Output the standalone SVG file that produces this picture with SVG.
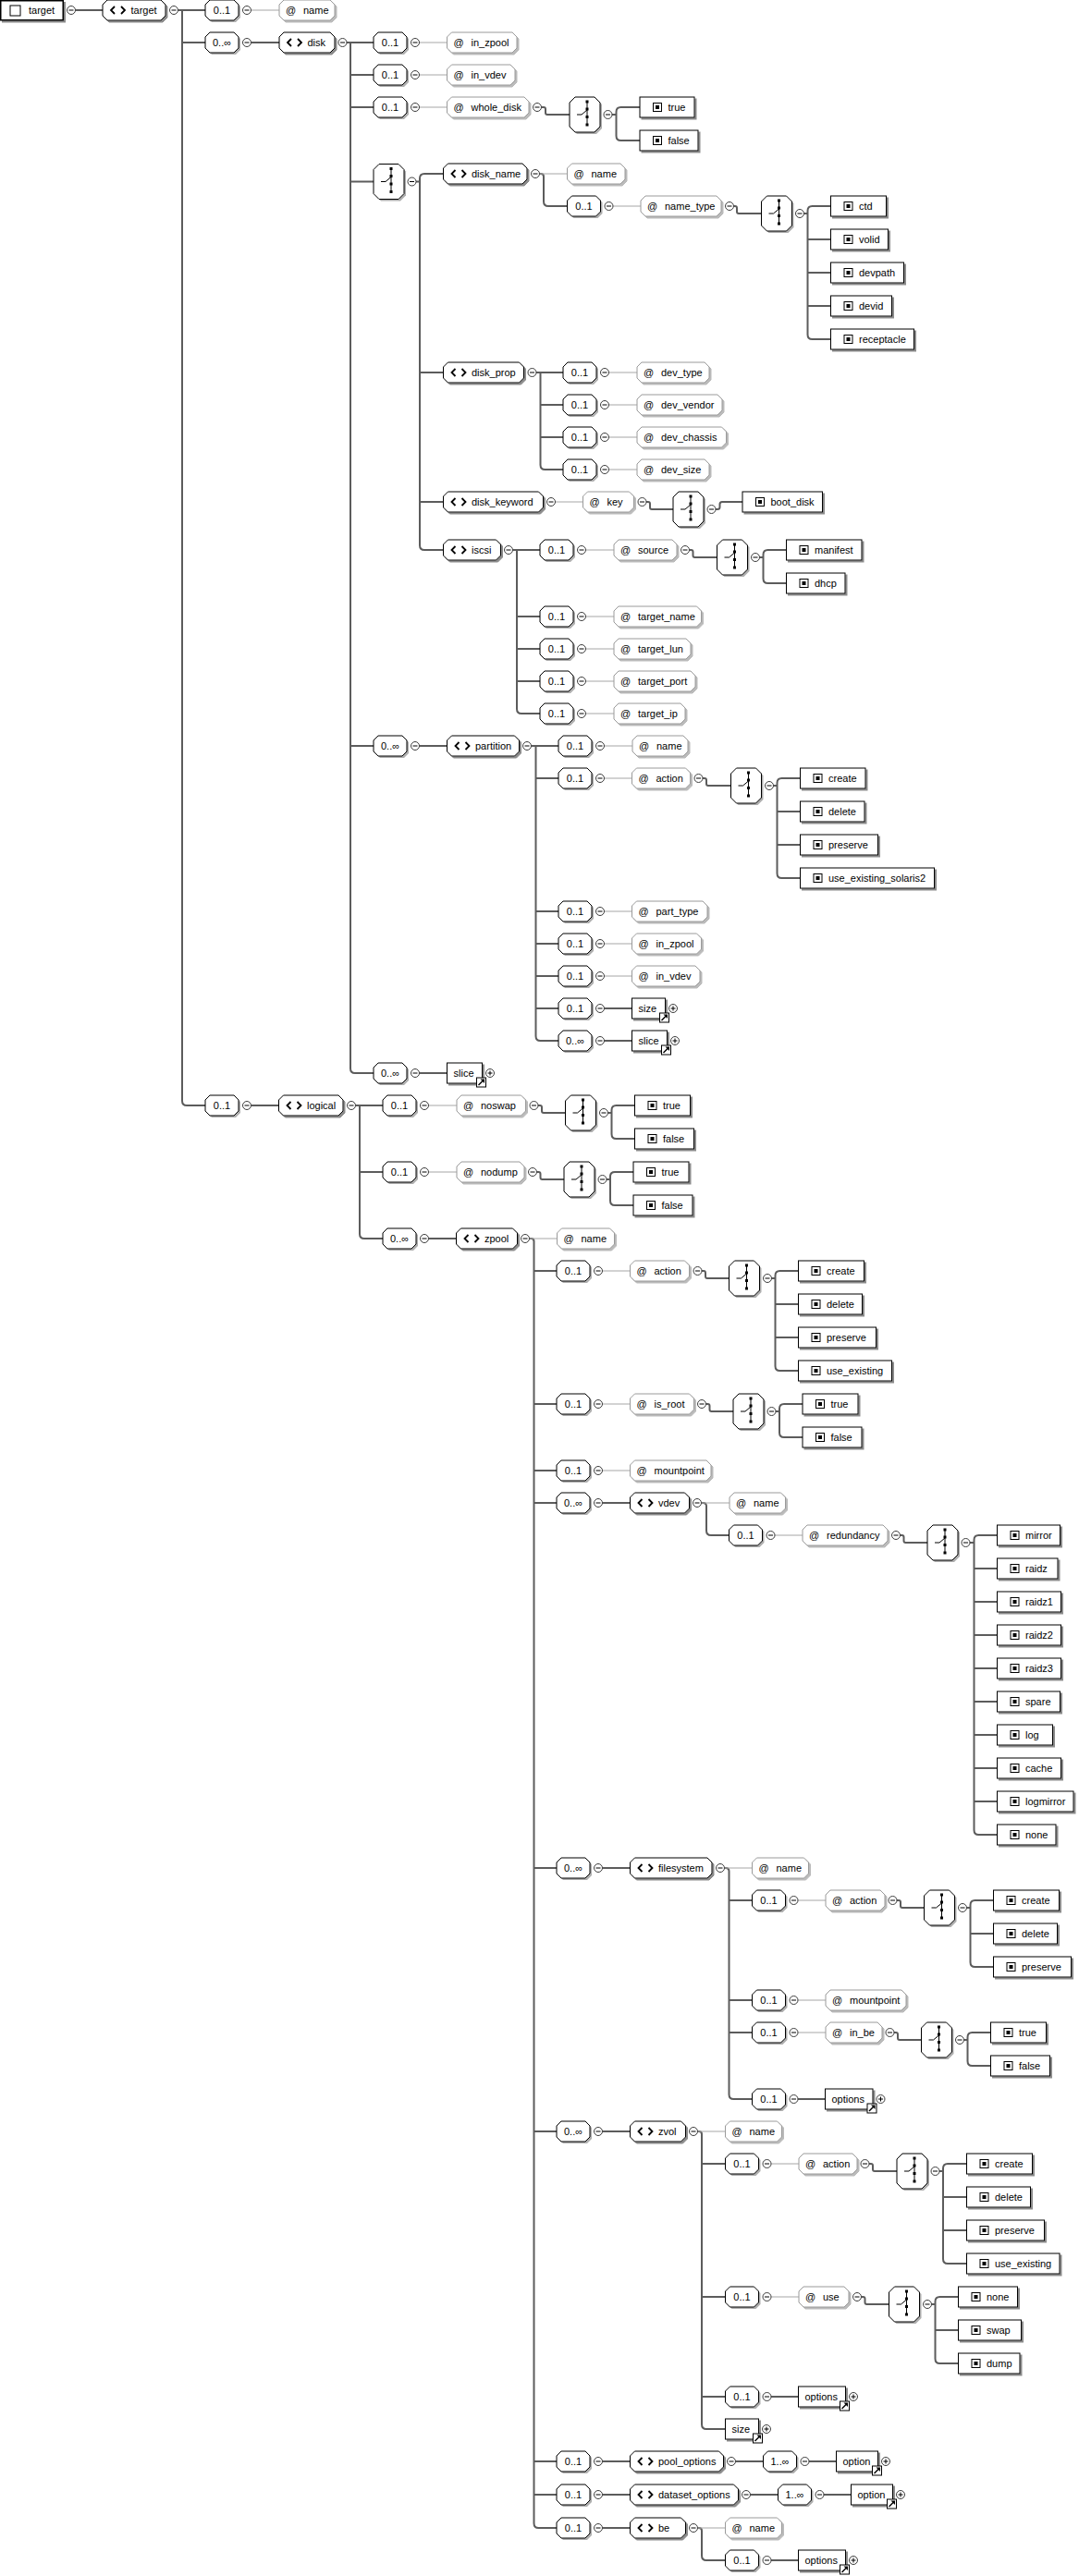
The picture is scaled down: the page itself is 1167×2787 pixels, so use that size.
<svg xmlns="http://www.w3.org/2000/svg" xmlns:xlink="http://www.w3.org/1999/xlink" width="1167" height="2787" viewBox="0 0 1167 2787">
<style>
.t{font-family:"Liberation Sans",Arial,sans-serif;font-size:11px;fill:#000}
.m{text-anchor:middle}
.e{fill:#fff;stroke:#000;stroke-width:1;filter:url(#s)}
.a{fill:#fff;stroke:#9a9a9a;stroke-width:1;filter:url(#sa)}
.c{fill:none;stroke:#5c5c5c;stroke-width:2}
.ct{fill:none;stroke:#a6a6a6;stroke-width:1}
</style>
<defs>
<filter id="s" x="-10%" y="-20%" width="130%" height="160%"><feDropShadow dx="2" dy="2" stdDeviation="0.5" flood-color="#666" flood-opacity="0.75"/></filter>
<filter id="sa" x="-10%" y="-20%" width="130%" height="160%"><feDropShadow dx="2" dy="2" stdDeviation="0.5" flood-color="#aaa" flood-opacity="0.8"/></filter>
<g id="mi"><circle r="4.5" fill="#fff" stroke="#3c3c3c"/><path d="M-2.5 0H2.5" stroke="#000"/></g>
<g id="pl"><circle r="4.5" fill="#fff" stroke="#3c3c3c"/><path d="M-2.5 0H2.5M0 -2.5V2.5" stroke="#000"/></g>
<g id="mb"><path d="M2 -4l5-5h26l5 5v12l-5 5h-26l-5-5z" fill="#8c8c8c" fill-opacity="0.7"/><path d="M0 -6l5-5h26l5 5v12l-5 5h-26l-5-5z" fill="#fff" stroke="#000"/></g>
<path id="cv" d="M13 -4L9 0L13 4M20 -4L24 0L20 4" fill="none" stroke="#000" stroke-width="1.8"/>
<g id="ei"><rect x="14.5" y="-4.5" width="9" height="9" fill="#fff" stroke="#000"/><rect x="17" y="-2" width="4" height="4" fill="#000"/></g>
<g id="ar"><rect x="-6" y="5" width="10" height="10" fill="#fff" stroke="#000"/><path d="M-4 13L1 8" stroke="#000" stroke-width="1.5"/><path d="M-2 6.5H2.5V11Z" fill="#000"/></g>
<g id="ch"><path d="M2 8l6-6h21l6 6v26l-6 6h-21l-6-6z" fill="#8c8c8c" fill-opacity="0.7"/><path d="M0 6l6-6h21l6 6v26l-6 6h-21l-6-6z" fill="#fff" stroke="#000"/><path d="M19 5V30M8 19H13L19 14" fill="none" stroke="#000"/><rect x="17.5" y="3.5" width="3" height="3"/><rect x="17.5" y="11.5" width="3" height="3"/><rect x="17.5" y="20" width="3" height="3"/><rect x="17.5" y="28.5" width="3" height="3"/></g>
</defs>

<g id="connectors">
<g class="c">
<path d="M81.5 11H111M192.5 11H222M197 11V1191Q197 1196 202 1196H222M197 46H222M271.5 46H302M375 46H404"/>
<path d="M379 46V1156Q379 1161 384 1161H404M379 81H404M379 116H404M379 196.5H404M379 807H404"/>
<path d="M585.5 116H588Q590 116 590 118V122Q590 124 592 124H616M662 124H666.5M692 116H671.5Q666.5 116 666.5 121V147Q666.5 152 671.5 152H692"/>
<path d="M450 196.5H454M479.5 188H459Q454 188 454 193V590Q454 595 459 595H479.5M454 403H479.5M454 543H479.5"/>
<path d="M583.5 188H585Q588 188 588 191V218Q588 223 593 223H613.5"/>
<path d="M793.5 223H795Q797 223 797 225V229Q797 231 799 231H823.5M869.5 231H873.5M898.5 223H878.5Q873.5 223 873.5 228V362Q873.5 367 878.5 367H898.5M873.5 259H898.5M873.5 295H898.5M873.5 331H898.5"/>
<path d="M580 403H609M584.5 403V503Q584.5 508 589.5 508H609M584.5 438H609M584.5 473H609"/>
<path d="M699 543H701Q703 543 703 545V549Q703 551 705 551H728M774 551H776Q778.5 551 778.5 548.5V545.5Q778.5 543 781 543H803"/>
<path d="M554.5 595H584M559 595V767Q559 772 564 772H584M559 667H584M559 702H584M559 737H584"/>
<path d="M745.5 595H747.5Q749.5 595 749.5 597V601Q749.5 603 751.5 603H775.5M821.5 603H825.5M850.5 595H830.5Q825.5 595 825.5 600V626Q825.5 631 830.5 631H850.5"/>
<path d="M453.5 807H483.5M574.5 807H604M579.5 807V1121Q579.5 1126 584.5 1126H604M579.5 842H604M579.5 986H604M579.5 1021H604M579.5 1056H604M579.5 1091H604"/>
<path d="M760 842H762Q764 842 764 844V848Q764 850 766 850H790.5M836.5 850H840.5M865.5 842H845.5Q840.5 842 840.5 847V945Q840.5 950 845.5 950H865.5M840.5 878H865.5M840.5 914H865.5"/>
<path d="M653.5 1091H683.5M653.5 1126H683.5M453.5 1161H483.5"/>
<path d="M271.5 1196H301.5M384.5 1196H414M389 1196V1335Q389 1340 394 1340H414M389 1268H414"/>
<path d="M582 1196H584Q586 1196 586 1198V1202Q586 1204 588 1204H611.5M657.5 1204H661.5M686.5 1196H666.5Q661.5 1196 661.5 1201V1227Q661.5 1232 666.5 1232H686.5"/>
<path d="M580.5 1268H582.5Q584.5 1268 584.5 1270V1274Q584.5 1276 586.5 1276H610M656 1276H660M685 1268H665Q660 1268 660 1273V1299Q660 1304 665 1304H685"/>
<path d="M463.5 1340H493.5M572.5 1340H574.5Q577.5 1340 577.5 1343V2730Q577.5 2735 582.5 2735H602M577.5 1375H602M577.5 1519H602M577.5 1591H602M577.5 1626H602M577.5 2021H602M577.5 2306H602M577.5 2663H602M577.5 2699H602"/>
<path d="M759 1375H761Q763 1375 763 1377V1381Q763 1383 765 1383H788.5M834.5 1383H838.5M863.5 1375H843.5Q838.5 1375 838.5 1380V1478Q838.5 1483 843.5 1483H863.5M838.5 1411H863.5M838.5 1447H863.5"/>
<path d="M763.5 1519H765.5Q767.5 1519 767.5 1521V1525Q767.5 1527 769.5 1527H793M839 1527H843M868 1519H848Q843 1519 843 1524V1550Q843 1555 848 1555H868"/>
<path d="M651.5 1626H681.5M758.5 1626H760.5Q764 1626 764 1629.5V1656Q764 1661 769 1661H788.5"/>
<path d="M973.5 1661H975.5Q977.5 1661 977.5 1663V1667Q977.5 1669 979.5 1669H1003M1049 1669H1053.5M1078.5 1661H1058.5Q1053.5 1661 1053.5 1666V1980Q1053.5 1985 1058.5 1985H1078.5M1053.5 1697H1078.5M1053.5 1733H1078.5M1053.5 1769H1078.5M1053.5 1805H1078.5M1053.5 1841H1078.5M1053.5 1877H1078.5M1053.5 1913H1078.5M1053.5 1949H1078.5"/>
<path d="M651.5 2021H681.5M783.5 2021H785Q788.5 2021 788.5 2024.5V2266Q788.5 2271 793.5 2271H813.5M788.5 2056H813.5M788.5 2164H813.5M788.5 2199H813.5"/>
<path d="M970 2056H972Q974 2056 974 2058V2062Q974 2064 976 2064H999.5M1045.5 2064H1049.5M1074.5 2056H1054.5Q1049.5 2056 1049.5 2061V2123Q1049.5 2128 1054.5 2128H1074.5M1049.5 2092H1074.5"/>
<path d="M967 2199H969Q971 2199 971 2201V2205Q971 2207 973 2207H996.5M1042.5 2207H1046.5M1071.5 2199H1051.5Q1046.5 2199 1046.5 2204V2230Q1046.5 2235 1051.5 2235H1071.5M863 2271H892.5"/>
<path d="M651.5 2306H681.5M754.5 2306H756Q759 2306 759 2309V2623Q759 2628 764 2628H784.5M759 2341H784.5M759 2485H784.5M759 2593H784.5"/>
<path d="M940 2341H942Q944 2341 944 2343V2347Q944 2349 946 2349H970M1016 2349H1020M1045.5 2341H1025Q1020 2341 1020 2346V2444Q1020 2449 1025 2449H1045.5M1020 2377H1045.5M1020 2413H1045.5"/>
<path d="M931.5 2485H933.5Q935.5 2485 935.5 2487V2491Q935.5 2493 937.5 2493H961.5M1007.5 2493H1011.5M1036.5 2485H1016.5Q1011.5 2485 1011.5 2490V2552Q1011.5 2557 1016.5 2557H1036.5M1011.5 2521H1036.5M834 2593H863.5"/>
<path d="M651.5 2663H681.5M795.5 2663H825.5M875 2663H904.5M651.5 2699H681.5M811.5 2699H841.5M891 2699H920.5"/>
<path d="M651.5 2735H681.5M754.5 2735H756Q759 2735 759 2738V2765Q759 2770 764 2770H784.5M834 2770H863.5"/>
</g>
<path class="ct" d="M271.5 11H302M453.5 46H483.5M453.5 81H483.5M453.5 116H483.5M583.5 188H613.5M663 223H693M658.5 403H689M658.5 438H689M658.5 473H689M658.5 508H689M600.5 543H630.5M633.5 595H664M633.5 667H664M633.5 702H664M633.5 737H664M633.5 772H664M653.5 807H684M653.5 842H683.5M653.5 986H683.5M653.5 1021H683.5M653.5 1056H683.5M463.5 1196H494M463.5 1268H494M572.5 1340H602.5M651.5 1375H681.5M651.5 1519H681.5M651.5 1591H681.5M758.5 1626H789M838 1661H868M783.5 2021H813.5M863 2056H893M863 2164H893M863 2199H893M754.5 2306H784.5M834 2341H864M834 2485H864M754.5 2735H784.5"/>
</g>

<g id="n-root"><rect x="0.75" y="0.75" width="67.5" height="21" fill="#fff" stroke="#000" stroke-width="1.5" filter="url(#s)"/><rect x="11" y="6" width="11" height="11" fill="none" stroke="#000"/><text class="t" x="31" y="15">target</text><use href="#mi" x="77" y="11"/></g>
<g id="n-target"><path class="e" d="M111 5l5-5h58l5 5v12l-5 5h-58l-5-5z"/><use href="#cv" x="111" y="11"/><text class="t" x="141.5" y="15">target</text><use href="#mi" x="188" y="11"/></g>

<g id="n-name0"><use href="#mb" x="222" y="11"/><text class="t m" x="240" y="15">0..1</text><use href="#mi" x="267" y="11"/><path class="a" d="M302 5l5-5h50l5 5v12l-5 5h-50l-5-5z"/><text class="t" x="309" y="15">@</text><text class="t" x="328" y="15">name</text></g>

<g id="n-disk"><use href="#mb" x="222" y="46"/><text class="t m" x="240" y="50">0..∞</text><use href="#mi" x="267" y="46"/><path class="e" d="M302 40l5-5h50l5 5v12l-5 5h-50l-5-5z"/><use href="#cv" x="302" y="46"/><text class="t" x="332.5" y="50">disk</text><use href="#mi" x="370.5" y="46"/></g>

<g id="n-disk-in_zpool"><use href="#mb" x="404" y="46"/><text class="t m" x="422" y="50">0..1</text><use href="#mi" x="449" y="46"/><path class="a" d="M483.5 40l5-5h65.5l5 5v12l-5 5h-65.5l-5-5z"/><text class="t" x="490.5" y="50">@</text><text class="t" x="509.5" y="50">in_zpool</text></g>
<g id="n-disk-in_vdev"><use href="#mb" x="404" y="81"/><text class="t m" x="422" y="85">0..1</text><use href="#mi" x="449" y="81"/><path class="a" d="M483.5 75l5-5h63.5l5 5v12l-5 5h-63.5l-5-5z"/><text class="t" x="490.5" y="85">@</text><text class="t" x="509.5" y="85">in_vdev</text></g>
<g id="n-disk-whole_disk"><use href="#mb" x="404" y="116"/><text class="t m" x="422" y="120">0..1</text><use href="#mi" x="449" y="116"/><path class="a" d="M483.5 110l5-5h78.5l5 5v12l-5 5h-78.5l-5-5z"/><text class="t" x="490.5" y="120">@</text><text class="t" x="509.5" y="120">whole_disk</text><use href="#mi" x="581" y="116"/><use href="#ch" x="616" y="105"/><use href="#mi" x="657.5" y="124"/>
<rect class="e" x="692" y="105" width="59" height="22"/><use href="#ei" x="692" y="116"/><text class="t" x="722.5" y="120">true</text>
<rect class="e" x="692" y="141" width="63" height="22"/><use href="#ei" x="692" y="152"/><text class="t" x="722.5" y="156">false</text></g>

<g id="n-disk-choice"><use href="#ch" x="404" y="177.5"/><use href="#mi" x="445.5" y="196.5"/></g>

<g id="n-disk_name"><path class="e" d="M479.5 182l5-5h80.5l5 5v12l-5 5h-80.5l-5-5z"/><use href="#cv" x="479.5" y="188"/><text class="t" x="510" y="192">disk_name</text><use href="#mi" x="579" y="188"/><path class="a" d="M613.5 182l5-5h52.5l5 5v12l-5 5h-52.5l-5-5z"/><text class="t" x="620.5" y="192">@</text><text class="t" x="639.5" y="192">name</text></g>
<g id="n-name_type"><use href="#mb" x="613.5" y="223"/><text class="t m" x="631.5" y="227">0..1</text><use href="#mi" x="658.5" y="223"/><path class="a" d="M693 217l5-5h77l5 5v12l-5 5h-77l-5-5z"/><text class="t" x="700" y="227">@</text><text class="t" x="719" y="227">name_type</text><use href="#mi" x="789" y="223"/><use href="#ch" x="823.5" y="212"/><use href="#mi" x="865" y="231"/>
<rect class="e" x="898.5" y="212" width="60" height="22"/><use href="#ei" x="898.5" y="223"/><text class="t" x="929" y="227">ctd</text>
<rect class="e" x="898.5" y="248" width="62" height="22"/><use href="#ei" x="898.5" y="259"/><text class="t" x="929" y="263">volid</text>
<rect class="e" x="898.5" y="284" width="79" height="22"/><use href="#ei" x="898.5" y="295"/><text class="t" x="929" y="299">devpath</text>
<rect class="e" x="898.5" y="320" width="66" height="22"/><use href="#ei" x="898.5" y="331"/><text class="t" x="929" y="335">devid</text>
<rect class="e" x="898.5" y="356" width="90" height="22"/><use href="#ei" x="898.5" y="367"/><text class="t" x="929" y="371">receptacle</text></g>

<g id="n-disk_prop"><path class="e" d="M479.5 397l5-5h77l5 5v12l-5 5h-77l-5-5z"/><use href="#cv" x="479.5" y="403"/><text class="t" x="510" y="407">disk_prop</text><use href="#mi" x="575.5" y="403"/></g>
<g id="n-dev_type"><use href="#mb" x="609" y="403"/><text class="t m" x="627" y="407">0..1</text><use href="#mi" x="654" y="403"/><path class="a" d="M689 397l5-5h68l5 5v12l-5 5h-68l-5-5z"/><text class="t" x="696" y="407">@</text><text class="t" x="715" y="407">dev_type</text></g>
<g id="n-dev_vendor"><use href="#mb" x="609" y="438"/><text class="t m" x="627" y="442">0..1</text><use href="#mi" x="654" y="438"/><path class="a" d="M689 432l5-5h82l5 5v12l-5 5h-82l-5-5z"/><text class="t" x="696" y="442">@</text><text class="t" x="715" y="442">dev_vendor</text></g>
<g id="n-dev_chassis"><use href="#mb" x="609" y="473"/><text class="t m" x="627" y="477">0..1</text><use href="#mi" x="654" y="473"/><path class="a" d="M689 467l5-5h86.5l5 5v12l-5 5h-86.5l-5-5z"/><text class="t" x="696" y="477">@</text><text class="t" x="715" y="477">dev_chassis</text></g>
<g id="n-dev_size"><use href="#mb" x="609" y="508"/><text class="t m" x="627" y="512">0..1</text><use href="#mi" x="654" y="508"/><path class="a" d="M689 502l5-5h68l5 5v12l-5 5h-68l-5-5z"/><text class="t" x="696" y="512">@</text><text class="t" x="715" y="512">dev_size</text></g>

<g id="n-disk_keyword"><path class="e" d="M479.5 537l5-5h98l5 5v12l-5 5h-98l-5-5z"/><use href="#cv" x="479.5" y="543"/><text class="t" x="510" y="547">disk_keyword</text><use href="#mi" x="596" y="543"/><path class="a" d="M630.5 537l5-5h45l5 5v12l-5 5h-45l-5-5z"/><text class="t" x="637.5" y="547">@</text><text class="t" x="656.5" y="547">key</text><use href="#mi" x="694.5" y="543"/><use href="#ch" x="728" y="532"/><use href="#mi" x="769.5" y="551"/>
<rect class="e" x="803" y="532" width="86.5" height="22"/><use href="#ei" x="803" y="543"/><text class="t" x="833.5" y="547">boot_disk</text></g>

<g id="n-iscsi"><path class="e" d="M479.5 589l5-5h52l5 5v12l-5 5h-52l-5-5z"/><use href="#cv" x="479.5" y="595"/><text class="t" x="510" y="599">iscsi</text><use href="#mi" x="550" y="595"/></g>
<g id="n-source"><use href="#mb" x="584" y="595"/><text class="t m" x="602" y="599">0..1</text><use href="#mi" x="629" y="595"/><path class="a" d="M664 589l5-5h58l5 5v12l-5 5h-58l-5-5z"/><text class="t" x="671" y="599">@</text><text class="t" x="690" y="599">source</text><use href="#mi" x="741" y="595"/><use href="#ch" x="775.5" y="584"/><use href="#mi" x="817" y="603"/>
<rect class="e" x="850.5" y="584" width="81.5" height="22"/><use href="#ei" x="850.5" y="595"/><text class="t" x="881" y="599">manifest</text>
<rect class="e" x="850.5" y="620" width="63.5" height="22"/><use href="#ei" x="850.5" y="631"/><text class="t" x="881" y="635">dhcp</text></g>
<g id="n-target_name"><use href="#mb" x="584" y="667"/><text class="t m" x="602" y="671">0..1</text><use href="#mi" x="629" y="667"/><path class="a" d="M664 661l5-5h84.5l5 5v12l-5 5h-84.5l-5-5z"/><text class="t" x="671" y="671">@</text><text class="t" x="690" y="671">target_name</text></g>
<g id="n-target_lun"><use href="#mb" x="584" y="702"/><text class="t m" x="602" y="706">0..1</text><use href="#mi" x="629" y="702"/><path class="a" d="M664 696l5-5h73l5 5v12l-5 5h-73l-5-5z"/><text class="t" x="671" y="706">@</text><text class="t" x="690" y="706">target_lun</text></g>
<g id="n-target_port"><use href="#mb" x="584" y="737"/><text class="t m" x="602" y="741">0..1</text><use href="#mi" x="629" y="737"/><path class="a" d="M664 731l5-5h78l5 5v12l-5 5h-78l-5-5z"/><text class="t" x="671" y="741">@</text><text class="t" x="690" y="741">target_port</text></g>
<g id="n-target_ip"><use href="#mb" x="584" y="772"/><text class="t m" x="602" y="776">0..1</text><use href="#mi" x="629" y="772"/><path class="a" d="M664 766l5-5h67l5 5v12l-5 5h-67l-5-5z"/><text class="t" x="671" y="776">@</text><text class="t" x="690" y="776">target_ip</text></g>

<g id="n-partition"><use href="#mb" x="404" y="807"/><text class="t m" x="422" y="811">0..∞</text><use href="#mi" x="449" y="807"/><path class="e" d="M483.5 801l5-5h68l5 5v12l-5 5h-68l-5-5z"/><use href="#cv" x="483.5" y="807"/><text class="t" x="514" y="811">partition</text><use href="#mi" x="570" y="807"/></g>
<g id="n-partition-name"><use href="#mb" x="604" y="807"/><text class="t m" x="622" y="811">0..1</text><use href="#mi" x="649" y="807"/><path class="a" d="M684 801l5-5h50l5 5v12l-5 5h-50l-5-5z"/><text class="t" x="691" y="811">@</text><text class="t" x="710" y="811">name</text></g>
<g id="n-partition-action"><use href="#mb" x="604" y="842"/><text class="t m" x="622" y="846">0..1</text><use href="#mi" x="649" y="842"/><path class="a" d="M683.5 836l5-5h53l5 5v12l-5 5h-53l-5-5z"/><text class="t" x="690.5" y="846">@</text><text class="t" x="709.5" y="846">action</text><use href="#mi" x="755.5" y="842"/><use href="#ch" x="790.5" y="831"/><use href="#mi" x="832" y="850"/>
<rect class="e" x="865.5" y="831" width="70.5" height="22"/><use href="#ei" x="865.5" y="842"/><text class="t" x="896" y="846">create</text>
<rect class="e" x="865.5" y="867" width="69.5" height="22"/><use href="#ei" x="865.5" y="878"/><text class="t" x="896" y="882">delete</text>
<rect class="e" x="865.5" y="903" width="84" height="22"/><use href="#ei" x="865.5" y="914"/><text class="t" x="896" y="918">preserve</text>
<rect class="e" x="865.5" y="939" width="145" height="22"/><use href="#ei" x="865.5" y="950"/><text class="t" x="896" y="954">use_existing_solaris2</text></g>
<g id="n-part_type"><use href="#mb" x="604" y="986"/><text class="t m" x="622" y="990">0..1</text><use href="#mi" x="649" y="986"/><path class="a" d="M683.5 980l5-5h71.5l5 5v12l-5 5h-71.5l-5-5z"/><text class="t" x="690.5" y="990">@</text><text class="t" x="709.5" y="990">part_type</text></g>
<g id="n-partition-in_zpool"><use href="#mb" x="604" y="1021"/><text class="t m" x="622" y="1025">0..1</text><use href="#mi" x="649" y="1021"/><path class="a" d="M683.5 1015l5-5h65l5 5v12l-5 5h-65l-5-5z"/><text class="t" x="690.5" y="1025">@</text><text class="t" x="709.5" y="1025">in_zpool</text></g>
<g id="n-partition-in_vdev"><use href="#mb" x="604" y="1056"/><text class="t m" x="622" y="1060">0..1</text><use href="#mi" x="649" y="1056"/><path class="a" d="M683.5 1050l5-5h63.5l5 5v12l-5 5h-63.5l-5-5z"/><text class="t" x="690.5" y="1060">@</text><text class="t" x="709.5" y="1060">in_vdev</text></g>
<g id="n-partition-size"><use href="#mb" x="604" y="1091"/><text class="t m" x="622" y="1095">0..1</text><use href="#mi" x="649" y="1091"/><rect class="e" x="683.5" y="1080" width="36" height="22"/><text class="t" x="690.5" y="1095">size</text><use href="#ar" x="719.5" y="1091"/><use href="#pl" x="728" y="1091"/></g>
<g id="n-partition-slice"><use href="#mb" x="604" y="1126"/><text class="t m" x="622" y="1130">0..∞</text><use href="#mi" x="649" y="1126"/><rect class="e" x="683.5" y="1115" width="38" height="22"/><text class="t" x="690.5" y="1130">slice</text><use href="#ar" x="721.5" y="1126"/><use href="#pl" x="730" y="1126"/></g>
<g id="n-disk-slice"><use href="#mb" x="404" y="1161"/><text class="t m" x="422" y="1165">0..∞</text><use href="#mi" x="449" y="1161"/><rect class="e" x="483.5" y="1150" width="38" height="22"/><text class="t" x="490.5" y="1165">slice</text><use href="#ar" x="521.5" y="1161"/><use href="#pl" x="530" y="1161"/></g>

<g id="n-logical"><use href="#mb" x="222" y="1196"/><text class="t m" x="240" y="1200">0..1</text><use href="#mi" x="267" y="1196"/><path class="e" d="M301.5 1190l5-5h59.5l5 5v12l-5 5h-59.5l-5-5z"/><use href="#cv" x="301.5" y="1196"/><text class="t" x="332" y="1200">logical</text><use href="#mi" x="380" y="1196"/></g>
<g id="n-noswap"><use href="#mb" x="414" y="1196"/><text class="t m" x="432" y="1200">0..1</text><use href="#mi" x="459" y="1196"/><path class="a" d="M494 1190l5-5h64.5l5 5v12l-5 5h-64.5l-5-5z"/><text class="t" x="501" y="1200">@</text><text class="t" x="520" y="1200">noswap</text><use href="#mi" x="577.5" y="1196"/><use href="#ch" x="611.5" y="1185"/><use href="#mi" x="653" y="1204"/>
<rect class="e" x="686.5" y="1185" width="60" height="22"/><use href="#ei" x="686.5" y="1196"/><text class="t" x="717" y="1200">true</text>
<rect class="e" x="686.5" y="1221" width="64" height="22"/><use href="#ei" x="686.5" y="1232"/><text class="t" x="717" y="1236">false</text></g>
<g id="n-nodump"><use href="#mb" x="414" y="1268"/><text class="t m" x="432" y="1272">0..1</text><use href="#mi" x="459" y="1268"/><path class="a" d="M494 1262l5-5h63l5 5v12l-5 5h-63l-5-5z"/><text class="t" x="501" y="1272">@</text><text class="t" x="520" y="1272">nodump</text><use href="#mi" x="576" y="1268"/><use href="#ch" x="610" y="1257"/><use href="#mi" x="651.5" y="1276"/>
<rect class="e" x="685" y="1257" width="60" height="22"/><use href="#ei" x="685" y="1268"/><text class="t" x="715.5" y="1272">true</text>
<rect class="e" x="685" y="1293" width="64" height="22"/><use href="#ei" x="685" y="1304"/><text class="t" x="715.5" y="1308">false</text></g>

<g id="n-zpool"><use href="#mb" x="414" y="1340"/><text class="t m" x="432" y="1344">0..∞</text><use href="#mi" x="459" y="1340"/><path class="e" d="M493.5 1334l5-5h56l5 5v12l-5 5h-56l-5-5z"/><use href="#cv" x="493.5" y="1340"/><text class="t" x="524" y="1344">zpool</text><use href="#mi" x="568" y="1340"/><path class="a" d="M602.5 1334l5-5h52l5 5v12l-5 5h-52l-5-5z"/><text class="t" x="609.5" y="1344">@</text><text class="t" x="628.5" y="1344">name</text></g>
<g id="n-zpool-action"><use href="#mb" x="602" y="1375"/><text class="t m" x="620" y="1379">0..1</text><use href="#mi" x="647" y="1375"/><path class="a" d="M681.5 1369l5-5h54l5 5v12l-5 5h-54l-5-5z"/><text class="t" x="688.5" y="1379">@</text><text class="t" x="707.5" y="1379">action</text><use href="#mi" x="754.5" y="1375"/><use href="#ch" x="788.5" y="1364"/><use href="#mi" x="830" y="1383"/>
<rect class="e" x="863.5" y="1364" width="71" height="22"/><use href="#ei" x="863.5" y="1375"/><text class="t" x="894" y="1379">create</text>
<rect class="e" x="863.5" y="1400" width="69" height="22"/><use href="#ei" x="863.5" y="1411"/><text class="t" x="894" y="1415">delete</text>
<rect class="e" x="863.5" y="1436" width="84" height="22"/><use href="#ei" x="863.5" y="1447"/><text class="t" x="894" y="1451">preserve</text>
<rect class="e" x="863.5" y="1472" width="101" height="22"/><use href="#ei" x="863.5" y="1483"/><text class="t" x="894" y="1487">use_existing</text></g>
<g id="n-is_root"><use href="#mb" x="602" y="1519"/><text class="t m" x="620" y="1523">0..1</text><use href="#mi" x="647" y="1519"/><path class="a" d="M681.5 1513l5-5h59l5 5v12l-5 5h-59l-5-5z"/><text class="t" x="688.5" y="1523">@</text><text class="t" x="707.5" y="1523">is_root</text><use href="#mi" x="759" y="1519"/><use href="#ch" x="793" y="1508"/><use href="#mi" x="834.5" y="1527"/>
<rect class="e" x="868" y="1508" width="60" height="22"/><use href="#ei" x="868" y="1519"/><text class="t" x="898.5" y="1523">true</text>
<rect class="e" x="868" y="1544" width="64" height="22"/><use href="#ei" x="868" y="1555"/><text class="t" x="898.5" y="1559">false</text></g>
<g id="n-zpool-mountpoint"><use href="#mb" x="602" y="1591"/><text class="t m" x="620" y="1595">0..1</text><use href="#mi" x="647" y="1591"/><path class="a" d="M681.5 1585l5-5h77.5l5 5v12l-5 5h-77.5l-5-5z"/><text class="t" x="688.5" y="1595">@</text><text class="t" x="707.5" y="1595">mountpoint</text></g>
<g id="n-vdev"><use href="#mb" x="602" y="1626"/><text class="t m" x="620" y="1630">0..∞</text><use href="#mi" x="647" y="1626"/><path class="e" d="M681.5 1620l5-5h54l5 5v12l-5 5h-54l-5-5z"/><use href="#cv" x="681.5" y="1626"/><text class="t" x="712" y="1630">vdev</text><use href="#mi" x="754" y="1626"/><path class="a" d="M789 1620l5-5h50.5l5 5v12l-5 5h-50.5l-5-5z"/><text class="t" x="796" y="1630">@</text><text class="t" x="815" y="1630">name</text></g>
<g id="n-redundancy"><use href="#mb" x="788.5" y="1661"/><text class="t m" x="806.5" y="1665">0..1</text><use href="#mi" x="833.5" y="1661"/><path class="a" d="M868 1655l5-5h82l5 5v12l-5 5h-82l-5-5z"/><text class="t" x="875" y="1665">@</text><text class="t" x="894" y="1665">redundancy</text><use href="#mi" x="969" y="1661"/><use href="#ch" x="1003" y="1650"/><use href="#mi" x="1044.5" y="1669"/>
<rect class="e" x="1078.5" y="1650" width="68" height="22"/><use href="#ei" x="1078.5" y="1661"/><text class="t" x="1109" y="1665">mirror</text>
<rect class="e" x="1078.5" y="1686" width="65.5" height="22"/><use href="#ei" x="1078.5" y="1697"/><text class="t" x="1109" y="1701">raidz</text>
<rect class="e" x="1078.5" y="1722" width="69" height="22"/><use href="#ei" x="1078.5" y="1733"/><text class="t" x="1109" y="1737">raidz1</text>
<rect class="e" x="1078.5" y="1758" width="69" height="22"/><use href="#ei" x="1078.5" y="1769"/><text class="t" x="1109" y="1773">raidz2</text>
<rect class="e" x="1078.5" y="1794" width="69" height="22"/><use href="#ei" x="1078.5" y="1805"/><text class="t" x="1109" y="1809">raidz3</text>
<rect class="e" x="1078.5" y="1830" width="68" height="22"/><use href="#ei" x="1078.5" y="1841"/><text class="t" x="1109" y="1845">spare</text>
<rect class="e" x="1078.5" y="1866" width="60" height="22"/><use href="#ei" x="1078.5" y="1877"/><text class="t" x="1109" y="1881">log</text>
<rect class="e" x="1078.5" y="1902" width="69" height="22"/><use href="#ei" x="1078.5" y="1913"/><text class="t" x="1109" y="1917">cache</text>
<rect class="e" x="1078.5" y="1938" width="82.5" height="22"/><use href="#ei" x="1078.5" y="1949"/><text class="t" x="1109" y="1953">logmirror</text>
<rect class="e" x="1078.5" y="1974" width="63.5" height="22"/><use href="#ei" x="1078.5" y="1985"/><text class="t" x="1109" y="1989">none</text></g>

<g id="n-filesystem"><use href="#mb" x="602" y="2021"/><text class="t m" x="620" y="2025">0..∞</text><use href="#mi" x="647" y="2021"/><path class="e" d="M681.5 2015l5-5h78.5l5 5v12l-5 5h-78.5l-5-5z"/><use href="#cv" x="681.5" y="2021"/><text class="t" x="712" y="2025">filesystem</text><use href="#mi" x="779" y="2021"/><path class="a" d="M813.5 2015l5-5h51l5 5v12l-5 5h-51l-5-5z"/><text class="t" x="820.5" y="2025">@</text><text class="t" x="839.5" y="2025">name</text></g>
<g id="n-fs-action"><use href="#mb" x="813.5" y="2056"/><text class="t m" x="831.5" y="2060">0..1</text><use href="#mi" x="858.5" y="2056"/><path class="a" d="M893 2050l5-5h54l5 5v12l-5 5h-54l-5-5z"/><text class="t" x="900" y="2060">@</text><text class="t" x="919" y="2060">action</text><use href="#mi" x="965.5" y="2056"/><use href="#ch" x="999.5" y="2045"/><use href="#mi" x="1041" y="2064"/>
<rect class="e" x="1074.5" y="2045" width="71" height="22"/><use href="#ei" x="1074.5" y="2056"/><text class="t" x="1105" y="2060">create</text>
<rect class="e" x="1074.5" y="2081" width="69" height="22"/><use href="#ei" x="1074.5" y="2092"/><text class="t" x="1105" y="2096">delete</text>
<rect class="e" x="1074.5" y="2117" width="84" height="22"/><use href="#ei" x="1074.5" y="2128"/><text class="t" x="1105" y="2132">preserve</text></g>
<g id="n-fs-mountpoint"><use href="#mb" x="813.5" y="2164"/><text class="t m" x="831.5" y="2168">0..1</text><use href="#mi" x="858.5" y="2164"/><path class="a" d="M893 2158l5-5h77l5 5v12l-5 5h-77l-5-5z"/><text class="t" x="900" y="2168">@</text><text class="t" x="919" y="2168">mountpoint</text></g>
<g id="n-in_be"><use href="#mb" x="813.5" y="2199"/><text class="t m" x="831.5" y="2203">0..1</text><use href="#mi" x="858.5" y="2199"/><path class="a" d="M893 2193l5-5h51l5 5v12l-5 5h-51l-5-5z"/><text class="t" x="900" y="2203">@</text><text class="t" x="919" y="2203">in_be</text><use href="#mi" x="962.5" y="2199"/><use href="#ch" x="996.5" y="2188"/><use href="#mi" x="1038" y="2207"/>
<rect class="e" x="1071.5" y="2188" width="60" height="22"/><use href="#ei" x="1071.5" y="2199"/><text class="t" x="1102" y="2203">true</text>
<rect class="e" x="1071.5" y="2224" width="64" height="22"/><use href="#ei" x="1071.5" y="2235"/><text class="t" x="1102" y="2239">false</text></g>
<g id="n-fs-options"><use href="#mb" x="813.5" y="2271"/><text class="t m" x="831.5" y="2275">0..1</text><use href="#mi" x="858.5" y="2271"/><rect class="e" x="892.5" y="2260" width="51.5" height="22"/><text class="t" x="899.5" y="2275">options</text><use href="#ar" x="944" y="2271"/><use href="#pl" x="952.5" y="2271"/></g>

<g id="n-zvol"><use href="#mb" x="602" y="2306"/><text class="t m" x="620" y="2310">0..∞</text><use href="#mi" x="647" y="2306"/><path class="e" d="M681.5 2300l5-5h50l5 5v12l-5 5h-50l-5-5z"/><use href="#cv" x="681.5" y="2306"/><text class="t" x="712" y="2310">zvol</text><use href="#mi" x="750" y="2306"/><path class="a" d="M784.5 2300l5-5h51l5 5v12l-5 5h-51l-5-5z"/><text class="t" x="791.5" y="2310">@</text><text class="t" x="810.5" y="2310">name</text></g>
<g id="n-zvol-action"><use href="#mb" x="784.5" y="2341"/><text class="t m" x="802.5" y="2345">0..1</text><use href="#mi" x="829.5" y="2341"/><path class="a" d="M864 2335l5-5h53l5 5v12l-5 5h-53l-5-5z"/><text class="t" x="871" y="2345">@</text><text class="t" x="890" y="2345">action</text><use href="#mi" x="935.5" y="2341"/><use href="#ch" x="970" y="2330"/><use href="#mi" x="1011.5" y="2349"/>
<rect class="e" x="1045.5" y="2330" width="71" height="22"/><use href="#ei" x="1045.5" y="2341"/><text class="t" x="1076" y="2345">create</text>
<rect class="e" x="1045.5" y="2366" width="69" height="22"/><use href="#ei" x="1045.5" y="2377"/><text class="t" x="1076" y="2381">delete</text>
<rect class="e" x="1045.5" y="2402" width="84" height="22"/><use href="#ei" x="1045.5" y="2413"/><text class="t" x="1076" y="2417">preserve</text>
<rect class="e" x="1045.5" y="2438" width="100.5" height="22"/><use href="#ei" x="1045.5" y="2449"/><text class="t" x="1076" y="2453">use_existing</text></g>
<g id="n-use"><use href="#mb" x="784.5" y="2485"/><text class="t m" x="802.5" y="2489">0..1</text><use href="#mi" x="829.5" y="2485"/><path class="a" d="M864 2479l5-5h44l5 5v12l-5 5h-44l-5-5z"/><text class="t" x="871" y="2489">@</text><text class="t" x="890" y="2489">use</text><use href="#mi" x="927" y="2485"/><use href="#ch" x="961.5" y="2474"/><use href="#mi" x="1003" y="2493"/>
<rect class="e" x="1036.5" y="2474" width="64" height="22"/><use href="#ei" x="1036.5" y="2485"/><text class="t" x="1067" y="2489">none</text>
<rect class="e" x="1036.5" y="2510" width="68" height="22"/><use href="#ei" x="1036.5" y="2521"/><text class="t" x="1067" y="2525">swap</text>
<rect class="e" x="1036.5" y="2546" width="66.5" height="22"/><use href="#ei" x="1036.5" y="2557"/><text class="t" x="1067" y="2561">dump</text></g>
<g id="n-zvol-options"><use href="#mb" x="784.5" y="2593"/><text class="t m" x="802.5" y="2597">0..1</text><use href="#mi" x="829.5" y="2593"/><rect class="e" x="863.5" y="2582" width="51" height="22"/><text class="t" x="870.5" y="2597">options</text><use href="#ar" x="914.5" y="2593"/><use href="#pl" x="923" y="2593"/></g>
<g id="n-zvol-size"><rect class="e" x="784.5" y="2617" width="36" height="22"/><text class="t" x="791.5" y="2632">size</text><use href="#ar" x="820.5" y="2628"/><use href="#pl" x="829" y="2628"/></g>

<g id="n-pool_options"><use href="#mb" x="602" y="2663"/><text class="t m" x="620" y="2667">0..1</text><use href="#mi" x="647" y="2663"/><path class="e" d="M681.5 2657l5-5h91l5 5v12l-5 5h-91l-5-5z"/><use href="#cv" x="681.5" y="2663"/><text class="t" x="712" y="2667">pool_options</text><use href="#mi" x="791" y="2663"/><use href="#mb" x="825.5" y="2663"/><text class="t m" x="843.5" y="2667">1..∞</text><use href="#mi" x="870.5" y="2663"/><rect class="e" x="904.5" y="2652" width="45" height="22"/><text class="t" x="911.5" y="2667">option</text><use href="#ar" x="949.5" y="2663"/><use href="#pl" x="958" y="2663"/></g>
<g id="n-dataset_options"><use href="#mb" x="602" y="2699"/><text class="t m" x="620" y="2703">0..1</text><use href="#mi" x="647" y="2699"/><path class="e" d="M681.5 2693l5-5h107l5 5v12l-5 5h-107l-5-5z"/><use href="#cv" x="681.5" y="2699"/><text class="t" x="712" y="2703">dataset_options</text><use href="#mi" x="807" y="2699"/><use href="#mb" x="841.5" y="2699"/><text class="t m" x="859.5" y="2703">1..∞</text><use href="#mi" x="886.5" y="2699"/><rect class="e" x="920.5" y="2688" width="45" height="22"/><text class="t" x="927.5" y="2703">option</text><use href="#ar" x="965.5" y="2699"/><use href="#pl" x="974" y="2699"/></g>
<g id="n-be"><use href="#mb" x="602" y="2735"/><text class="t m" x="620" y="2739">0..1</text><use href="#mi" x="647" y="2735"/><path class="e" d="M681.5 2729l5-5h50l5 5v12l-5 5h-50l-5-5z"/><use href="#cv" x="681.5" y="2735"/><text class="t" x="712" y="2739">be</text><use href="#mi" x="750" y="2735"/><path class="a" d="M784.5 2729l5-5h51l5 5v12l-5 5h-51l-5-5z"/><text class="t" x="791.5" y="2739">@</text><text class="t" x="810.5" y="2739">name</text></g>
<g id="n-be-options"><use href="#mb" x="784.5" y="2770"/><text class="t m" x="802.5" y="2774">0..1</text><use href="#mi" x="829.5" y="2770"/><rect class="e" x="863.5" y="2759" width="51" height="22"/><text class="t" x="870.5" y="2774">options</text><use href="#ar" x="914.5" y="2770"/><use href="#pl" x="923" y="2770"/></g>
</svg>
